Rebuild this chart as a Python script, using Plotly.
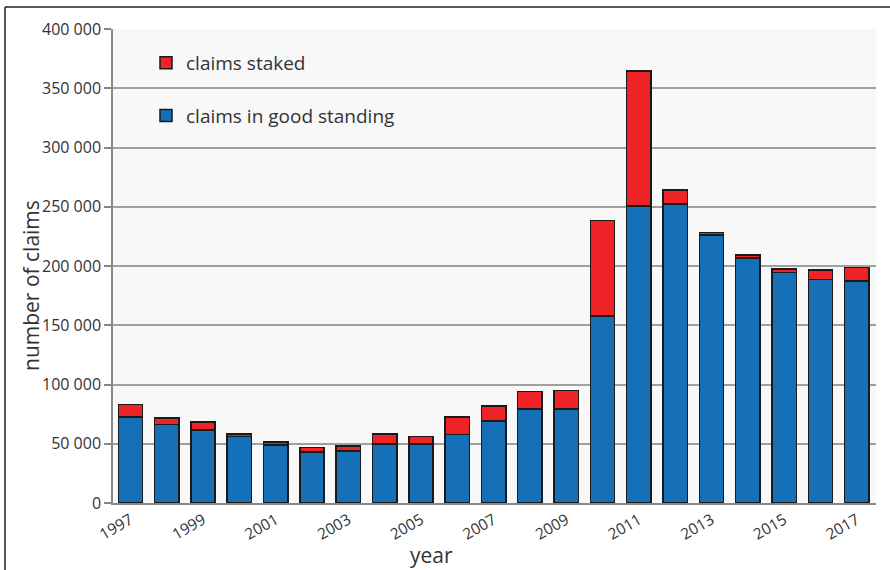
import plotly.graph_objects as go

years = list(range(1997, 2018))
good_standing = [72400, 66300, 61500, 56100, 48800, 42900, 44000, 50000, 50000, 57800,
                 69300, 79400, 79400, 157700, 250700, 252300, 226200, 206900, 194500, 188600, 187500]
totals = [83000, 71600, 68500, 58400, 51400, 46900, 48000, 58400, 56200, 72400,
          81900, 94000, 95100, 238300, 364600, 264100, 228200, 209100, 197600, 196800, 198700]
staked = [t - g for t, g in zip(totals, good_standing)]
tick_years = list(range(1997, 2018, 2))
y_ticks = list(range(0, 400001, 50000))

FONT = "Open Sans"
W, H = 890, 570
ML, MR, MT, MB = 113, 14, 29, 67
PW, PH = W - ML - MR, H - MT - MB

fig = go.Figure()
fig.add_trace(go.Bar(x=years, y=good_standing, name="claims in good standing",
                     marker=dict(color="#1570b8", line=dict(color="#1a1a1a", width=1.5)),
                     legendgroup="a", legendrank=2))
fig.add_trace(go.Bar(x=years, y=staked, name="claims staked",
                     marker=dict(color="#ee2227", line=dict(color="#1a1a1a", width=1.5)),
                     legendgroup="b", legendrank=1))

def px_x(p):
    return (p - ML) / PW

def px_y(p):
    return (H - MB - p) / PH

fig.update_layout(
    width=W, height=H,
    margin=dict(l=ML, r=MR, t=MT, b=MB, pad=0),
    barmode="stack", bargap=0.33,
    paper_bgcolor="white", plot_bgcolor="#f8f8f8",
    separators=". ",
    font=dict(family=FONT, color="#333333"),
    legend=dict(x=px_x(146), y=px_y(44), xanchor="left", yanchor="top",
                bgcolor="rgba(0,0,0,0)", font=dict(size=19, color="#333333"),
                traceorder="grouped", tracegroupgap=25,
                itemwidth=30),
    xaxis=dict(range=[1996.52, 2017.53], tickvals=tick_years, ticktext=[str(y) for y in tick_years],
               tickangle=-30, tickfont=dict(size=15.5, color="#333333"),
               showgrid=False, showline=True, linecolor="#888888", linewidth=2,
               ticks="", zeroline=False, automargin=False),
    yaxis=dict(range=[0, 400000], tickvals=y_ticks, tickformat=",d",
               tickfont=dict(size=16, color="#333333"),
               showgrid=True, gridcolor="#a0a0a0", gridwidth=1.5,
               showline=True, linecolor="#888888", linewidth=1.5,
               ticks="outside", ticklen=7, tickcolor="#888888", tickwidth=1.5,
               zeroline=False, automargin=False),
    annotations=[
        dict(text="year", xref="paper", yref="paper", x=px_x(431), y=px_y(555),
             xanchor="center", yanchor="middle", showarrow=False,
             font=dict(size=21, color="#333333")),
        dict(text="number of claims", xref="paper", yref="paper", x=px_x(31), y=px_y(286),
             xanchor="center", yanchor="middle", showarrow=False, textangle=-90,
             font=dict(size=21, color="#333333")),
    ],
    shapes=[
        dict(type="line", xref="paper", yref="paper", x0=px_x(5), x1=px_x(5), y0=px_y(7), y1=px_y(600),
             line=dict(color="#222222", width=1.5)),
        dict(type="line", xref="paper", yref="paper", x0=px_x(5), x1=px_x(900), y0=px_y(7), y1=px_y(7),
             line=dict(color="#222222", width=1.5)),
    ],
)

fig.write_html("out.html", config={"displayModeBar": False},
               post_script="document.body.style.margin='0';document.body.style.overflow='hidden';")
